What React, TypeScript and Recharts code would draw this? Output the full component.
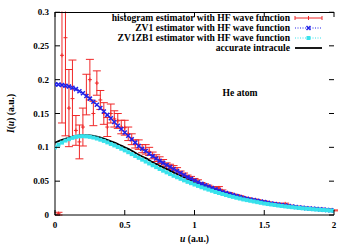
import React from "react";
import { ComposedChart, Line, Scatter, XAxis, YAxis, ErrorBar } from "recharts";

// ---------- data ----------
const U_FINE = [0, 0.025, 0.05, 0.075, 0.1, 0.125, 0.15, 0.175, 0.2, 0.225, 0.25, 0.275, 0.3, 0.325, 0.35, 0.375, 0.4, 0.425, 0.45, 0.475, 0.5, 0.525, 0.55, 0.575, 0.6, 0.625, 0.65, 0.675, 0.7, 0.725, 0.75, 0.775, 0.8, 0.825, 0.85, 0.875, 0.9, 0.925, 0.95, 0.975, 1, 1.025, 1.05, 1.075, 1.1, 1.125, 1.15, 1.175, 1.2, 1.225, 1.25, 1.275, 1.3, 1.325, 1.35, 1.375, 1.4, 1.425, 1.45, 1.475, 1.5, 1.525, 1.55, 1.575, 1.6, 1.625, 1.65, 1.675, 1.7, 1.725, 1.75, 1.775, 1.8, 1.825, 1.85, 1.875, 1.9, 1.925, 1.95, 1.975, 2];

const HIST_U = U_FINE.slice(1);
const HIST_I = [
  0.002, 0.236, 0.262, 0.158, 0.172, 0.125, 0.108, 0.130, 0.178, 0.200,
  0.150, 0.195, 0.170, 0.150, 0.130, 0.150, 0.142, 0.139, 0.130, 0.129,
  0.120, 0.112, 0.105, 0.104, 0.098, 0.097, 0.094, 0.088, 0.084, 0.081,
  0.077, 0.073, 0.071, 0.069, 0.066, 0.062, 0.059, 0.056, 0.054, 0.051,
  0.049, 0.046, 0.044, 0.042, 0.040, 0.038, 0.040, 0.035, 0.032, 0.031,
  0.029, 0.028, 0.027, 0.025, 0.024, 0.023, 0.022, 0.021, 0.020, 0.019,
  0.018, 0.017, 0.0165, 0.016, 0.015, 0.0165, 0.0133, 0.0125, 0.0118, 0.0113,
  0.0107, 0.0101, 0.0096, 0.0093, 0.0088, 0.0084, 0.0080, 0.0076, 0.0072, 0.0068,
];
const HIST_E = [
  0.002, 0.100, 0.145, 0.057, 0.057, 0.022, 0.025, 0.028, 0.030, 0.030,
  0.018, 0.018, 0.014, 0.016, 0.014, 0.014, 0.012, 0.011, 0.010, 0.011,
  0.010, 0.008, 0.006, 0.007, 0.006, 0.007, 0.006, 0.005, 0.005, 0.005,
  0.005, 0.004, 0.004, 0.004, 0.004, 0.003, 0.003, 0.003, 0.003, 0.003,
  0.003, 0.002, 0.002, 0.002, 0.002, 0.002, 0.002, 0.002, 0.002, 0.002,
  0.002, 0.002, 0.0015, 0.0015, 0.0015, 0.0015, 0.0015, 0.0015, 0.0015, 0.0015,
  0.0012, 0.0012, 0.0012, 0.0012, 0.001, 0.001, 0.001, 0.001, 0.001, 0.001,
  0.001, 0.0008, 0.0008, 0.0008, 0.0008, 0.0008, 0.0007, 0.0007, 0.0007, 0.0007,
];

const ZV1_I = [
  0.193, 0.1928, 0.192, 0.191, 0.190, 0.188, 0.186, 0.183, 0.180, 0.176,
  0.172, 0.1675, 0.163, 0.158, 0.153, 0.148, 0.143, 0.1375, 0.132, 0.127,
  0.122, 0.117, 0.112, 0.107, 0.102, 0.098, 0.0945, 0.0905, 0.087, 0.0835,
  0.080, 0.077, 0.074, 0.071, 0.068, 0.065, 0.062, 0.059, 0.056, 0.0535,
  0.051, 0.0485, 0.046, 0.044, 0.042, 0.040, 0.038, 0.036, 0.034, 0.0325,
  0.031, 0.0295, 0.028, 0.0265, 0.025, 0.024, 0.023, 0.022, 0.021, 0.020,
  0.019, 0.018, 0.017, 0.0162, 0.0155, 0.0148, 0.014, 0.0132, 0.0125, 0.0118,
  0.0112, 0.0106, 0.010, 0.0096, 0.0092, 0.0088, 0.0083, 0.0079, 0.0075, 0.0071,
  0.0068,
];

const ZV1ZB1_I = [
  0.100, 0.104, 0.107, 0.110, 0.112, 0.114, 0.1155, 0.1162, 0.1165, 0.1162,
  0.1155, 0.1145, 0.113, 0.1113, 0.1095, 0.1073, 0.105, 0.1028, 0.1005, 0.098,
  0.0955, 0.0928, 0.090, 0.0872, 0.0845, 0.0818, 0.079, 0.0762, 0.0735, 0.0708,
  0.068, 0.0655, 0.063, 0.0605, 0.058, 0.0558, 0.0535, 0.0512, 0.049, 0.047,
  0.045, 0.043, 0.041, 0.0392, 0.0375, 0.0358, 0.034, 0.0325, 0.031, 0.0295,
  0.028, 0.0268, 0.0255, 0.0243, 0.023, 0.022, 0.021, 0.020, 0.019, 0.018,
  0.017, 0.0162, 0.0155, 0.0148, 0.014, 0.0133, 0.0127, 0.0121, 0.0115, 0.011,
  0.0104, 0.0099, 0.0094, 0.009, 0.0085, 0.0081, 0.0077, 0.0073, 0.007, 0.0066,
  0.0063,
];

const U_COARSE = [0, 0.05, 0.1, 0.15, 0.2, 0.25, 0.3, 0.35, 0.4, 0.45, 0.5, 0.55, 0.6, 0.65, 0.7, 0.75, 0.8, 0.85, 0.9, 0.95, 1, 1.05, 1.1, 1.15, 1.2, 1.25, 1.3, 1.35, 1.4, 1.45, 1.5, 1.55, 1.6, 1.65, 1.7, 1.75, 1.8, 1.85, 1.9, 1.95, 2];
const ACCURATE_I = [
  0.107, 0.111, 0.1145, 0.117, 0.118, 0.1175, 0.116, 0.113, 0.109, 0.105,
  0.100, 0.095, 0.089, 0.084, 0.078, 0.073, 0.068, 0.063, 0.058, 0.0535,
  0.049, 0.045, 0.041, 0.0375, 0.034, 0.031, 0.028, 0.0255, 0.023, 0.021,
  0.019, 0.017, 0.0155, 0.014, 0.0125, 0.0113, 0.0102, 0.0092, 0.0083, 0.0075,
  0.0067,
];

const X_TICKS = [0, 0.5, 1, 1.5, 2];
const Y_TICKS = [0, 0.05, 0.1, 0.15, 0.2, 0.25, 0.3];

const SERIES_NAMES = [
  "histogram estimator with HF wave function",
  "ZV1 estimator with HF wave function",
  "ZV1ZB1 estimator with HF wave function",
  "accurate intracule",
];

// ---------- derived tables ----------
const histData = HIST_U.map((u, i) => ({ u, I: HIST_I[i], e: HIST_E[i] }));
const zv1Data = U_FINE.map((u, i) => ({ u, I: ZV1_I[i] }));
const zb1Data = U_FINE.map((u, i) => ({ u, I: ZV1ZB1_I[i] }));
const accData = U_COARSE.map((u, i) => ({ u, I: ACCURATE_I[i] }));

// ---------- layout / style ----------
const W = 350;
const H = 245;
const PL = 55;
const PR = 334;
const PT = 12;
const PB = 215;
const FONT = "'Liberation Serif', 'Times New Roman', serif";
const RED = "#f02828";
const BLUE = "#2020e8";
const CYAN = "#38e2ec";

const tickTxt = { fontFamily: FONT, fontWeight: 700, fontSize: 9, fill: "#000" } as const;
const txt = { fontFamily: FONT, fontWeight: 700, fontSize: 9.6, fill: "#000" } as const;

const YTick = (p: any) => {
  const { y, payload } = p;
  return (
    <g>
      <text x={PL - 6} y={y} dy={3} textAnchor="end" style={tickTxt}>
        {String(payload.value)}
      </text>
      <line x1={PL} x2={PL + 5} y1={y} y2={y} stroke="#000" />
      <line x1={PR - 5} x2={PR} y1={y} y2={y} stroke="#000" />
    </g>
  );
};

const XTick = (p: any) => {
  const { x, payload } = p;
  return (
    <g>
      <text x={x} y={PB + 13} textAnchor="middle" style={tickTxt}>
        {String(payload.value)}
      </text>
      <line x1={x} x2={x} y1={PB} y2={PB - 5} stroke="#000" />
      <line x1={x} x2={x} y1={PT} y2={PT + 5} stroke="#000" />
    </g>
  );
};

const PlusShape = (p: any) => {
  const { cx, cy } = p;
  if (cx == null || cy == null) return <g />;
  return (
    <path d={`M${cx - 2},${cy}h4M${cx},${cy - 2}v4`} stroke={RED} strokeWidth={1} fill="none" />
  );
};

const XDot = (p: any) => {
  const { cx, cy, index } = p;
  if (cx == null || cy == null) return <g key={index} />;
  return (
    <path
      key={index}
      d={`M${cx - 2},${cy - 2}l4,4M${cx - 2},${cy + 2}l4,-4`}
      stroke={BLUE}
      strokeWidth={1.5}
      fill="none"
    />
  );
};

const SqDot = (p: any) => {
  const { cx, cy, index } = p;
  if (cx == null || cy == null) return <g key={index} />;
  return <rect key={index} x={cx - 2} y={cy - 2} width={4} height={4} fill={CYAN} />;
};

const Overlay = () => {
  const rows = [21, 31, 41, 51];
  const sx1 = 295;
  const sx2 = 322;
  const mx = (sx1 + sx2) / 2;
  return (
    <g>
      {/* mask anything drawn above the top edge of the plot */}
      <rect x={PL - 3} y={0} width={PR - PL + 6} height={PT - 0.5} fill="#fff" />
      {SERIES_NAMES.map((n, i) => (
        <text key={n} x={290} y={rows[i]} textAnchor="end" style={txt}>
          {n}
        </text>
      ))}
      <g>
        <line x1={sx1} x2={sx2} y1={rows[0] - 3} y2={rows[0] - 3} stroke={RED} />
        <line x1={sx1} x2={sx1} y1={rows[0] - 5} y2={rows[0] - 1} stroke={RED} />
        <line x1={sx2} x2={sx2} y1={rows[0] - 5} y2={rows[0] - 1} stroke={RED} />
        <line x1={mx} x2={mx} y1={rows[0] - 5} y2={rows[0] - 1} stroke={RED} />
      </g>
      <g>
        <line x1={sx1} x2={sx2} y1={rows[1] - 3} y2={rows[1] - 3} stroke={BLUE} strokeDasharray="1 1.5" />
        <path d={`M${mx - 2},${rows[1] - 5}l4,4M${mx - 2},${rows[1] - 1}l4,-4`} stroke={BLUE} strokeWidth={1.5} />
      </g>
      <g>
        <line x1={sx1} x2={sx2} y1={rows[2] - 3} y2={rows[2] - 3} stroke={CYAN} strokeDasharray="1 1.5" />
        <rect x={mx - 2} y={rows[2] - 5} width={4} height={4} fill={CYAN} />
      </g>
      <line x1={sx1} x2={sx2} y1={rows[3] - 3} y2={rows[3] - 3} stroke="#000" strokeWidth={1.8} />
      <text x={240} y={96} textAnchor="middle" style={txt}>
        He atom
      </text>
      <text transform={`translate(14,${(PT + PB) / 2}) rotate(-90)`} textAnchor="middle" style={txt}>
        <tspan fontStyle="italic">I</tspan>(<tspan fontStyle="italic">u</tspan>) (a.u.)
      </text>
      <text x={(PL + PR) / 2} y={242} textAnchor="middle" style={txt}>
        <tspan fontStyle="italic">u</tspan> (a.u.)
      </text>
    </g>
  );
};

export default function App() {
  return (
    <div style={{ position: "absolute", left: 0, top: 0, width: W, height: H, background: "#fff" }}>
      <ComposedChart width={W} height={H} margin={{ top: PT, right: W - PR, bottom: 0, left: 0 }}>
        <XAxis
          xAxisId="b"
          dataKey="u"
          type="number"
          domain={[0, 2]}
          ticks={X_TICKS}
          allowDataOverflow
          height={H - PB}
          tick={<XTick />}
          tickLine={false}
          axisLine={{ stroke: "#000" }}
          interval={0}
        />
        <XAxis
          xAxisId="t"
          orientation="top"
          type="number"
          domain={[0, 2]}
          height={0}
          tick={false}
          tickLine={false}
          axisLine={false}
        />
        <YAxis
          yAxisId="l"
          dataKey="I"
          type="number"
          domain={[0, 0.3]}
          ticks={Y_TICKS}
          allowDataOverflow
          width={PL}
          tick={<YTick />}
          tickLine={false}
          axisLine={{ stroke: "#000" }}
          interval={0}
        />
        <YAxis
          yAxisId="r"
          orientation="right"
          type="number"
          domain={[0, 0.3]}
          width={0}
          tick={false}
          tickLine={false}
          axisLine={{ stroke: "#000" }}
        />
        <Scatter
          xAxisId="b"
          yAxisId="l"
          name={SERIES_NAMES[0]}
          data={histData}
          dataKey="I"
          shape={<PlusShape />}
          isAnimationActive={false}
        >
          <ErrorBar dataKey="e" direction="y" width={4} stroke={RED} strokeWidth={1} isAnimationActive={false} />
        </Scatter>
        <Line
          xAxisId="b"
          yAxisId="l"
          name={SERIES_NAMES[1]}
          data={zv1Data}
          dataKey="I"
          stroke={BLUE}
          strokeWidth={1}
          strokeDasharray="1 1.5"
          dot={XDot}
          isAnimationActive={false}
        />
        <Line
          xAxisId="b"
          yAxisId="l"
          name={SERIES_NAMES[2]}
          data={zb1Data}
          dataKey="I"
          stroke={CYAN}
          strokeWidth={1}
          strokeDasharray="1 1.5"
          dot={SqDot}
          isAnimationActive={false}
        />
        <Line
          xAxisId="b"
          yAxisId="l"
          name={SERIES_NAMES[3]}
          data={accData}
          dataKey="I"
          type="monotone"
          stroke="#000"
          strokeWidth={1.8}
          dot={false}
          isAnimationActive={false}
        />
      </ComposedChart>
      <svg
        width={W}
        height={H}
        style={{ position: "absolute", left: 0, top: 0, pointerEvents: "none" }}
      >
        <Overlay />
        <line x1={PL} x2={PR} y1={PT + 0.5} y2={PT + 0.5} stroke="#000" />
      </svg>
    </div>
  );
}
